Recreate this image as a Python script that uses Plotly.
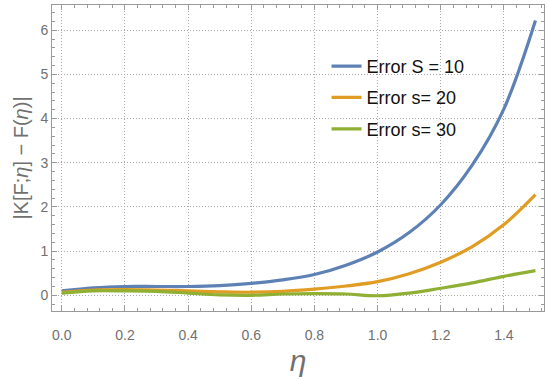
import plotly.graph_objects as go

eta = [0.0, 0.1, 0.2, 0.3, 0.4, 0.5, 0.6, 0.7, 0.8, 0.9, 1.0, 1.1, 1.2, 1.3, 1.4, 1.5]
err_s10 = [0.10, 0.17, 0.20, 0.20, 0.20, 0.22, 0.27, 0.35, 0.47, 0.68, 0.98, 1.42, 2.05, 2.95, 4.22, 6.22]
err_s20 = [0.07, 0.12, 0.13, 0.12, 0.10, 0.08, 0.07, 0.09, 0.14, 0.21, 0.31, 0.49, 0.75, 1.10, 1.60, 2.28]
err_s30 = [0.05, 0.10, 0.10, 0.09, 0.05, 0.01, 0.00, 0.03, 0.04, 0.03, -0.01, 0.05, 0.16, 0.28, 0.43, 0.56]
names = ["Error S = 10", "Error s= 20", "Error s= 30"]
colors = ["#5E81B5", "#E19C24", "#8FB032"]

fig = go.Figure()
for i, (ys, nm, c) in enumerate(zip([err_s10, err_s20, err_s30], names, colors)):
    fig.add_trace(go.Scatter(x=eta, y=ys, mode="lines", name=nm, legendgroup=f"g{i}",
                             line=dict(color=c, width=3.2, shape="spline", smoothing=1.0)))

FONT = "Liberation Sans, Arial, sans-serif"
axis_common = dict(
    showline=True, linecolor="#9a9a9a", linewidth=1, mirror="ticks",
    ticks="inside", ticklen=5, tickcolor="#9a9a9a",
    showgrid=True, gridcolor="#a8a8a8", griddash="1px,2px", gridwidth=1,
    zeroline=False, automargin=False,
    tickfont=dict(family=FONT, size=14, color="#707070"),
)

fig.update_xaxes(**axis_common, range=[-0.031, 1.527], tickmode="array",
                 tickvals=[0.0, 0.2, 0.4, 0.6, 0.8, 1.0, 1.2, 1.4],
                 ticktext=["0.0", "0.2", "0.4", "0.6", "0.8", "1.0", "1.2", "1.4"],
                 minor=dict(dtick=0.04, tick0=0, ticks="inside", ticklen=3, tickcolor="#9a9a9a", showgrid=False),
                 ticklabelstandoff=11,
                 title=dict(text="<i>η</i>", font=dict(family=FONT, size=30, color="#707070"), standoff=8))
fig.update_yaxes(**axis_common, range=[-0.355, 6.57], tickmode="array",
                 tickvals=[0, 1, 2, 3, 4, 5, 6],
                 minor=dict(dtick=0.2, tick0=0, ticks="inside", ticklen=3, tickcolor="#9a9a9a", showgrid=False),
                 title=dict(text="|K[F;<i>η</i>] − F(<i>η</i>)|", font=dict(family=FONT, size=20, color="#707070"), standoff=6))

fig.update_layout(
    template="none",
    width=550, height=379,
    margin=dict(l=52, r=6, t=5, b=68, autoexpand=False),
    paper_bgcolor="white", plot_bgcolor="white",
    showlegend=True,
    legend=dict(x=0.558, y=0.86, xanchor="left", yanchor="top",
                bgcolor="rgba(0,0,0,0)", tracegroupgap=5,
                font=dict(family=FONT, size=18, color="#111111")),
)

fig.write_html("out.html", post_script="document.body.style.margin='0';",
               config={"displayModeBar": False})
